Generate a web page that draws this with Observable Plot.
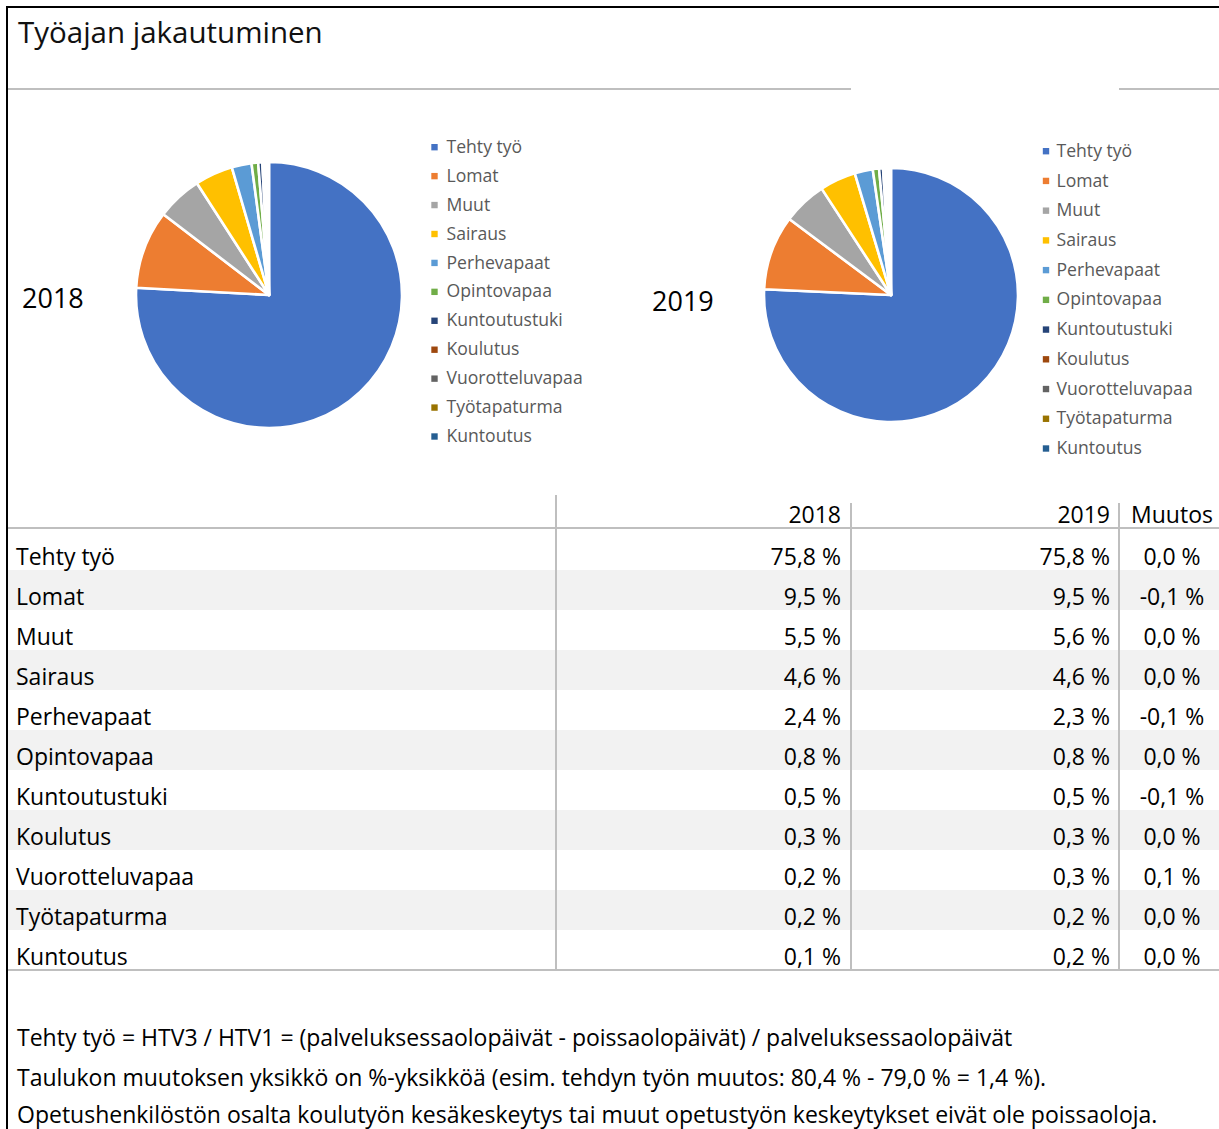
<!DOCTYPE html>
<html lang="fi">
<head>
<meta charset="utf-8">
<title>Työajan jakautuminen</title>
<script src="https://cdn.jsdelivr.net/npm/d3@7"></script>
<script src="https://cdn.jsdelivr.net/npm/@observablehq/plot@0.6"></script>
<style>
  html, body { margin: 0; padding: 0; background: #fff; }
  body { width: 1219px; height: 1129px; position: relative; overflow: hidden;
         font-family: "Open Sans", "Noto Sans", sans-serif; color: #000; }
  .abs { position: absolute; }
  .frame { left: 6px; top: 6px; right: -10px; bottom: -10px; border-top: 2px solid #000; border-left: 2px solid #000; }
  .title { left: 18px; top: 14px; font-size: 29.5px; line-height: 36px; font-weight: 400; color: #111; white-space: nowrap; }
  .hline { background: #bfbfbf; height: 2px; }
  .vline { background: #bfbfbf; width: 2px; }
  .year { font-size: 27px; line-height: 32px; white-space: nowrap; }
  .shade { background: #f2f2f2; left: 8px; width: 1211px; height: 40px; }
  .cell { font-size: 23px; line-height: 30px; white-space: nowrap; }
  .note { left: 17px; font-size: 23px; line-height: 30px; white-space: nowrap; }
  svg { max-width: none !important; }
</style>
</head>
<body>
<div class="abs frame"></div>
<div class="abs title">Työajan jakautuminen</div>
<div class="abs hline" style="left:8px; top:88px; width:843px;"></div>
<div class="abs hline" style="left:1119px; top:88px; width:100px;"></div>
<div class="abs year" style="left:22px; top:282px;">2018</div>
<div class="abs year" style="left:652px; top:285px;">2019</div>
<div id="pie2018" class="abs"></div>
<div id="pie2019" class="abs"></div>
<div id="leg2018" class="abs"></div>
<div id="leg2019" class="abs"></div>
<div id="table"></div>
<div id="notes"></div>
<script>
// ---- Data ----
const categories = ["Tehty työ", "Lomat", "Muut", "Sairaus", "Perhevapaat", "Opintovapaa",
  "Kuntoutustuki", "Koulutus", "Vuorotteluvapaa", "Työtapaturma", "Kuntoutus"];
const colors = ["#4472C4", "#ED7D31", "#A5A5A5", "#FFC000", "#5B9BD5", "#70AD47",
  "#264478", "#9E480E", "#636363", "#997300", "#255E91"];
const values2018 = [75.8, 9.5, 5.5, 4.6, 2.4, 0.8, 0.5, 0.3, 0.2, 0.2, 0.1];
const values2019 = [75.8, 9.5, 5.6, 4.6, 2.3, 0.8, 0.5, 0.3, 0.3, 0.2, 0.2];
const change = [0.0, -0.1, 0.0, 0.0, -0.1, 0.0, -0.1, 0.0, 0.1, 0.0, 0.0];
const years = ["2018", "2019"];
const changeHeader = "Muutos";
const notes = [
  "Tehty työ = HTV3 / HTV1 = (palveluksessaolopäivät - poissaolopäivät) / palveluksessaolopäivät",
  "Taulukon muutoksen yksikkö on %-yksikköä (esim. tehdyn työn muutos: 80,4 % - 79,0 % = 1,4 %).",
  "Opetushenkilöstön osalta koulutyön kesäkeskeytys tai muut opetustyön keskeytykset eivät ole poissaoloja."
];

const FONT = '"Open Sans", "Noto Sans", sans-serif';
const fmt = v => v.toFixed(1).replace(".", ",").replace("-0,0", "0,0") + " %";

// ---- Pie charts ----
function pieChart(values, R) {
  const rows = categories.map((c, i) => ({category: c, value: values[i]}));
  const slices = d3.pie().sort(null).value(d => d.value)(rows);
  const m = 4;
  return Plot.plot({
    width: 2 * R + 2 * m, height: 2 * R + 2 * m, margin: m,
    style: {background: "transparent", overflow: "visible", maxWidth: "none"},
    x: {domain: [-1, 1], axis: null},
    y: {domain: [-1, 1], axis: null},
    color: {domain: categories, range: colors},
    marks: [
      Plot.dot(rows, {x: 0, y: 0, r: 0, fill: "category"}),
      (index, scales) => {
        const cx = scales.x(0), cy = scales.y(0), r = scales.x(1) - scales.x(0);
        const arc = d3.arc().innerRadius(0).outerRadius(r);
        const g = d3.create("svg:g").attr("transform", `translate(${cx},${cy})`);
        g.selectAll("path").data(slices).join("path")
          .attr("d", arc)
          .attr("fill", d => scales.color(d.data.category))
          .attr("stroke", "#fff")
          .attr("stroke-width", 2.6)
          .attr("stroke-linejoin", "round");
        return g.node();
      }
    ]
  });
}

function legendChart(y0, y1, swX, txX) {
  return Plot.plot({
    width: 180, height: 340, margin: 0,
    style: {background: "transparent", overflow: "visible", fontFamily: FONT, maxWidth: "none"},
    x: {domain: [0, 180], range: [0, 180], axis: null},
    y: {type: "point", domain: categories, range: [y0, y1], padding: 0, round: false, axis: null},
    color: {domain: categories, range: colors},
    marks: [
      Plot.dot(categories, {x: swX, y: d => d, fill: d => d, symbol: "square", r: 3.6}),
      Plot.text(categories, {x: txX, y: d => d, text: d => d, textAnchor: "start",
        fill: "#595959", fontSize: 17.6})
    ]
  });
}

function place(id, node, left, top) {
  const el = document.getElementById(id);
  el.style.left = left + "px"; el.style.top = top + "px";
  el.appendChild(node);
}

const R1 = 133, R2 = 127;
place("pie2018", pieChart(values2018, R1), 269 - R1 - 4, 295 - R1 - 4);
place("pie2019", pieChart(values2019, R2), 891 - R2 - 4, 295.3 - R2 - 4);
place("leg2018", legendChart(16.7, 306, 14, 26), 420, 130);
place("leg2019", legendChart(20.7, 318, 15.5, 26), 1030, 130);

// ---- Table ----
const table = document.getElementById("table");
function add(cls, style, text) {
  const d = document.createElement("div");
  d.className = "abs " + cls;
  d.setAttribute("style", style);
  if (text != null) d.textContent = text;
  table.appendChild(d);
  return d;
}
const rowTop = 530, rowH = 40;
categories.forEach((c, i) => {
  if (i % 2 === 1) add("shade", `top:${rowTop + rowH * i}px;`);
});
// header
add("cell", `right:${1219 - 841}px; top:${499}px;`, years[0]);
add("cell", `right:${1219 - 1110}px; top:${499}px;`, years[1]);
add("cell", `left:1122px; width:100px; text-align:center; top:${499}px;`, changeHeader);
categories.forEach((c, i) => {
  const t = rowTop + rowH * i + 11;
  add("cell", `left:16px; top:${t}px;`, c);
  add("cell", `right:${1219 - 841}px; top:${t}px;`, fmt(values2018[i]));
  add("cell", `right:${1219 - 1110}px; top:${t}px;`, fmt(values2019[i]));
  add("cell", `left:1122px; width:100px; text-align:center; top:${t}px;`, fmt(change[i]));
});
// grid lines
add("hline", "left:8px; width:1211px; top:527px;");
add("hline", "left:8px; width:1211px; top:969px;");
add("vline", "left:555px; top:495px; height:475px;");
add("vline", "left:850px; top:503px; height:467px;");
add("vline", "left:1118px; top:503px; height:467px;");

// ---- Notes ----
const notesEl = document.getElementById("notes");
const noteY = [1037, 1077, 1114];
notes.forEach((n, i) => {
  const d = document.createElement("div");
  d.className = "abs note";
  d.style.top = (noteY[i] - 15) + "px";
  d.textContent = n;
  notesEl.appendChild(d);
});
</script>
</body>
</html>
